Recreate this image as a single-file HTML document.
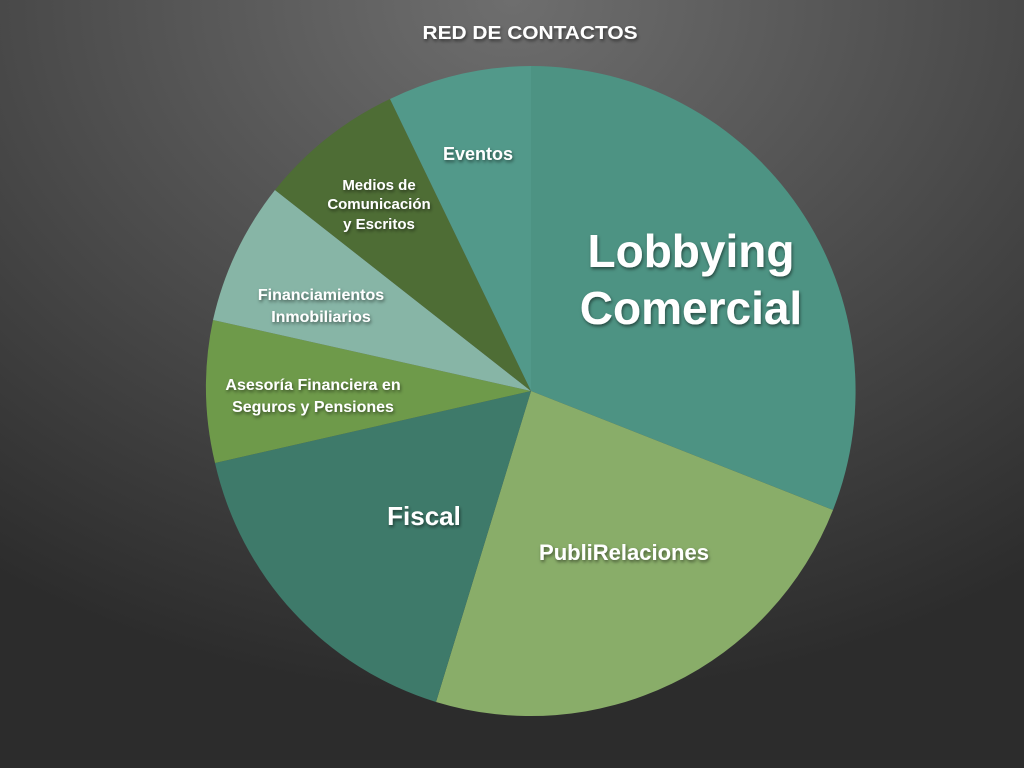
<!DOCTYPE html>
<html><head><meta charset="utf-8"><style>
html,body{margin:0;padding:0;width:1024px;height:768px;overflow:hidden}
body{background:radial-gradient(ellipse 900px 700px at 512px 0px,#6e6e6e 0%,#4a4a4a 55%,#2c2c2c 100%);font-family:"Liberation Sans",sans-serif}
svg{position:absolute;left:0;top:0}
text{font-family:"Liberation Sans",sans-serif;font-weight:bold;fill:#fff}
</style></head><body>
<svg width="1024" height="768" viewBox="0 0 1024 768">
<defs><filter id="s" x="-10%" y="-10%" width="120%" height="130%"><feDropShadow dx="1" dy="2" stdDeviation="1.5" flood-color="#000" flood-opacity="0.5"/></filter></defs>
<g>
<path d="M531,391 L531,66 A325,325 0 0 1 833,510 Z" fill="#4d9383"/>
<path d="M531,391 L833,510 A325,325 0 0 1 436,702 Z" fill="#89ad69"/>
<path d="M531,391 L436,702 A325,325 0 0 1 215,463 Z" fill="#3e7a6a"/>
<path d="M531,391 L215,463 A325,325 0 0 1 213,320 Z" fill="#6e9a4a"/>
<path d="M531,391 L213,320 A325,325 0 0 1 275,190 Z" fill="#87b5a6"/>
<path d="M531,391 L275,190 A325,325 0 0 1 390,99 Z" fill="#4e6d35"/>
<path d="M531,391 L390,99 A325,325 0 0 1 531,66 Z" fill="#52998a"/>
</g>
<g filter="url(#s)">
<text x="530" y="39" font-size="18" text-anchor="middle" textLength="215" lengthAdjust="spacingAndGlyphs">RED DE CONTACTOS</text>
<text x="691" y="267" font-size="46" text-anchor="middle">Lobbying</text>
<text x="691" y="324" font-size="46" text-anchor="middle">Comercial</text>
<text x="624" y="560" font-size="22" text-anchor="middle">PubliRelaciones</text>
<text x="424" y="525" font-size="26" text-anchor="middle">Fiscal</text>
<text x="313" y="390" font-size="16" text-anchor="middle">Asesoría Financiera en</text>
<text x="313" y="412" font-size="16" text-anchor="middle">Seguros y Pensiones</text>
<text x="321" y="300" font-size="16" text-anchor="middle">Financiamientos</text>
<text x="321" y="322" font-size="16" text-anchor="middle">Inmobiliarios</text>
<text x="379" y="190" font-size="15" text-anchor="middle">Medios de</text>
<text x="379" y="209" font-size="15" text-anchor="middle">Comunicación</text>
<text x="379" y="229" font-size="15" text-anchor="middle">y Escritos</text>
<text x="478" y="160" font-size="18" text-anchor="middle">Eventos</text>
</g>
</svg>
</body></html>
